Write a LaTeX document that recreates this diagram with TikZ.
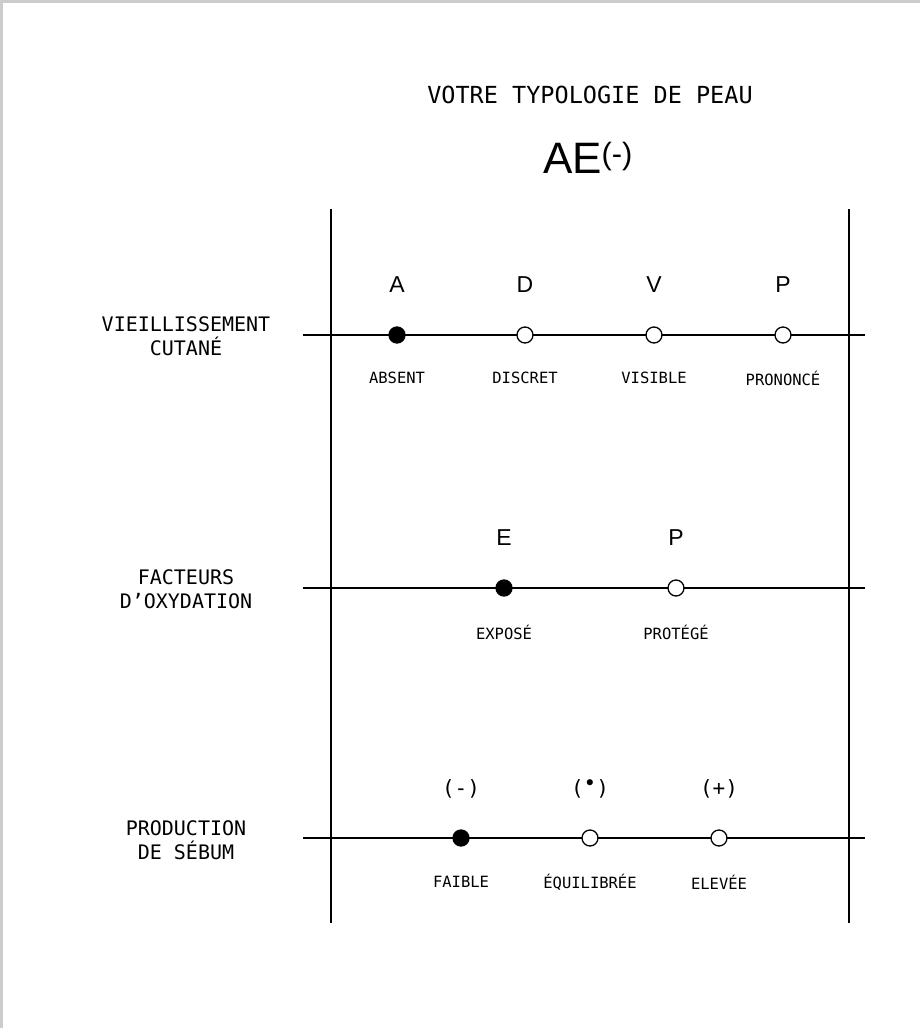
\documentclass[tikz,border=0pt]{standalone}
\usepackage{fontspec}
\setmainfont{Liberation Sans}
\newfontfamily\mono{DejaVu Sans Mono}
\begin{document}
\begin{tikzpicture}[x=1pt,y=-1pt,
  ax/.style={line width=1.6pt},
  full/.style={circle,draw,fill=black,minimum size=16pt,inner sep=0,line width=1.3pt},
  empty/.style={circle,draw,fill=white,minimum size=16pt,inner sep=0,line width=1.3pt},
  let/.style={font=\fontsize{23}{26}\selectfont},
  lab/.style={font=\mono\fontsize{15.5}{18}\selectfont},
  side/.style={font=\mono\fontsize{20}{24}\selectfont,align=center}]
\useasboundingbox (0,0) rectangle (920,1028);
\fill[white] (0,0) rectangle (920,1028);
\draw[gray!40,line width=3pt] (1.5,1028) -- (1.5,1.5) -- (920,1.5);
\node[font=\mono\fontsize{23.5}{28}\selectfont] (t) at (590,95) {VOTRE\ TYPOLOGIE\ DE\ PEAU};
\node[font=\fontsize{44}{50}\selectfont] (ae) at (588,158) {AE\textsuperscript{(-)}};
\coordinate (v1a) at (331,209); \coordinate (v1b) at (331,923);
\coordinate (v2a) at (849,209); \coordinate (v2b) at (849,923);
\draw[ax] (v1a)--(v1b); \draw[ax] (v2a)--(v2b);
\foreach \y/\n in {335/r1,588/r2,838/r3}{
 \coordinate (\n a) at (303,\y); \coordinate (\n b) at (865,\y);
 \draw[ax] (\n a)--(\n b);}
\node[side] (s1) at (186,336) {VIEILLISSEMENT\\CUTANÉ};
\node[side] (s2) at (186,589) {FACTEURS\\D’OXYDATION};
\node[side] (s3) at (186,840) {PRODUCTION\\DE\ SÉBUM};
% row 1
\foreach \x/\s/\l/\b/\i in {397/full/A/ABSENT/1,525/empty/D/DISCRET/2,654/empty/V/VISIBLE/3,783/empty/P/PRONONCÉ/4}{
 \node[\s] (a\i) at (\x,335) {};
 \node[let] (al\i) at (\x,285) {\l};
 \node[lab] (ab\i) at (\x,378) {\b};}
\foreach \x/\s/\l/\b/\i in {504/full/E/EXPOSÉ/1,676/empty/P/PROTÉGÉ/2}{
 \node[\s] (b\i) at (\x,588) {};
 \node[let] (bl\i) at (\x,538) {\l};
 \node[lab] (bb\i) at (\x,632) {\b};}
\foreach \x/\s/\l/\b/\i in {461/full/{(-)}/FAIBLE/1,590/empty/{(\raisebox{0.5ex}{\textbullet})}/ÉQUILIBRÉE/2,719/empty/{(+)}/ELEVÉE/3}{
 \node[\s] (c\i) at (\x,838) {};
 \node[let,font=\mono\fontsize{21}{24}\selectfont] (cl\i) at (\x,789) {\l};
 \node[lab] (cb\i) at (\x,882) {\b};}
\end{tikzpicture}
\end{document}
